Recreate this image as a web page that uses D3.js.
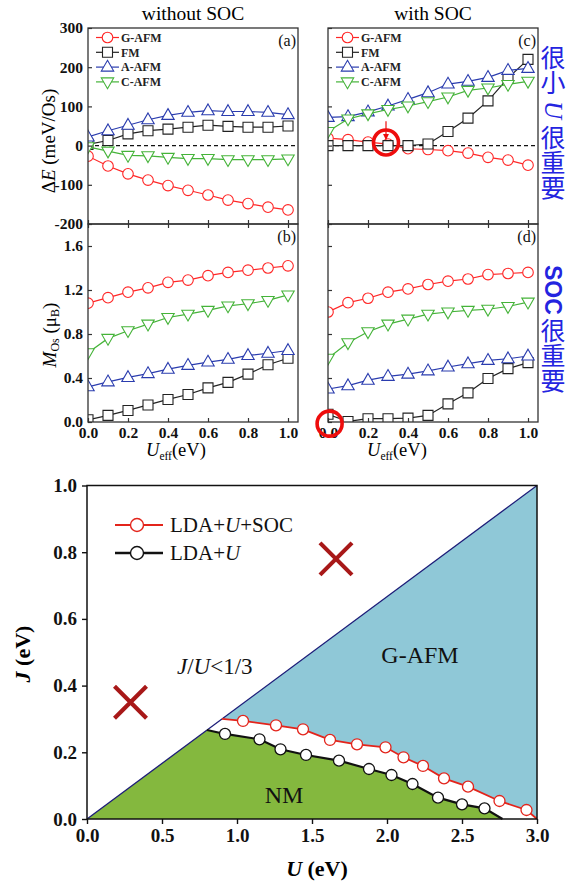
<!DOCTYPE html>
<html lang="en">
<head>
<meta charset="UTF-8">
<script src="https://cdn.jsdelivr.net/npm/d3@7"></script>
<title>Os magnetic phases</title>
<style>
	body { margin: 0; background: white; }
	svg { display: block; font-family: "Liberation Serif", "Times New Roman", serif; }
</style>
</head>
<body>
<script>
	// ---------------- data ----------------
	const uEff = [0, 0.1, 0.2, 0.3, 0.4, 0.5, 0.6, 0.7, 0.8, 0.9, 1.0];
	const phaseNames = ["G-AFM", "FM", "A-AFM", "C-AFM"];

	// (a) energy without SOC, meV/Os
	const dE_noSOC_G = [-27, -52, -72, -88, -102, -114, -126, -139, -148, -157, -164];
	const dE_noSOC_FM = [3, 13, 30, 38, 42, 47, 52, 49, 47, 47, 50];
	const dE_noSOC_A = [22, 38, 52, 66, 77, 85, 89, 87, 87, 85, 79];
	const dE_noSOC_C = [-3, -14, -25, -26, -30, -33, -33, -36, -36, -36, -34];
	// (c) energy with SOC
	const dE_SOC_G = [19, 15, 9, 4, -8, -10, -13, -19, -30, -37, -50];
	const dE_SOC_FM = [0, 0, 0, 0, 0, 4, 36, 70, 114, 172, 220];
	const dE_SOC_A = [72, 74, 86, 101, 118, 135, 157, 164, 174, 192, 197];
	const dE_SOC_C = [36, 68, 81, 92, 101, 112, 124, 141, 147, 156, 164];
	// (b) Os moment without SOC, muB
	const m_noSOC_G = [1.08, 1.13, 1.18, 1.22, 1.27, 1.29, 1.33, 1.36, 1.38, 1.40, 1.42];
	const m_noSOC_FM = [0.02, 0.06, 0.105, 0.155, 0.205, 0.25, 0.31, 0.36, 0.435, 0.52, 0.58];
	const m_noSOC_A = [0.32, 0.365, 0.405, 0.44, 0.48, 0.515, 0.545, 0.57, 0.605, 0.625, 0.65];
	const m_noSOC_C = [0.63, 0.76, 0.83, 0.89, 0.95, 0.98, 1.015, 1.055, 1.075, 1.105, 1.155];
	// (d) Os moment with SOC
	const m_SOC_G = [1.0, 1.085, 1.125, 1.18, 1.21, 1.25, 1.28, 1.30, 1.34, 1.35, 1.36];
	const m_SOC_FM = [0.07, 0.005, 0.03, 0.03, 0.035, 0.06, 0.165, 0.265, 0.395, 0.485, 0.54];
	const m_SOC_A = [0.30, 0.33, 0.38, 0.415, 0.435, 0.465, 0.50, 0.53, 0.56, 0.575, 0.60];
	const m_SOC_C = [0.58, 0.72, 0.82, 0.89, 0.935, 0.98, 1.0, 1.015, 1.025, 1.05, 1.09];

	const eTicks = [-200, -100, 0, 100, 200, 300];
	const mTicks = [0.0, 0.4, 0.8, 1.2, 1.6];
	const uTicks = [0.0, 0.2, 0.4, 0.6, 0.8, 1.0];

	// phase diagram (U, J in eV); first and last points are line ends without marker
	const socU = [0.90, 1.04, 1.26, 1.44, 1.62, 1.80, 1.99, 2.11, 2.24, 2.38, 2.54, 2.75, 2.93, 3.00];
	const socJ = [0.300, 0.294, 0.281, 0.269, 0.237, 0.224, 0.215, 0.185, 0.159, 0.122, 0.097, 0.054, 0.027, 0.0];
	const ldaU = [0.80, 0.92, 1.15, 1.29, 1.46, 1.68, 1.88, 2.03, 2.17, 2.34, 2.50, 2.65, 2.77];
	const ldaJ = [0.267, 0.255, 0.239, 0.209, 0.192, 0.175, 0.150, 0.132, 0.105, 0.064, 0.044, 0.032, 0.0];
	const jOverU = 1 / 3;
	const crossU = [0.29, 1.66];
	const crossJ = [0.35, 0.78];
	const bigUTicks = [0.0, 0.5, 1.0, 1.5, 2.0, 2.5, 3.0];
	const bigJTicks = [0.0, 0.2, 0.4, 0.6, 0.8, 1.0];

	// ---------------- setup ----------------
	const svg = d3.select("body").append("svg").attr("width", 572).attr("height", 887);

	const styles = [
		{ color: "#ff2626", shape: "circle" },
		{ color: "#222222", shape: "square" },
		{ color: "#2a3cae", shape: "up" },
		{ color: "#45b339", shape: "down" }
	];
	const shapePaths = {
		circle: d3.symbol().type(d3.symbolCircle).size(Math.PI * 5.3 * 5.3)(),
		square: "M-5,-5H5V5H-5Z",
		up: "M0,-6.8L6.2,4L-6.2,4Z",
		down: "M0,6.8L6.2,-4L-6.2,-4Z"
	};

	const panelLeft = [88, 328];
	const panelW = 210;
	const rowTop = [28, 224];
	const rowH = [196, 198];

	const x = d3.scaleLinear().domain([0, 1.05]).range([0, panelW]);
	const yE = d3.scaleLinear().domain([-200, 300]).range([rowH[0], 0]);
	const yM = d3.scaleLinear().domain([0, 1.8]).range([rowH[1], 0]);

	function drawPanel(col, row, yScale, yTicks, yFmt, series, label, legend) {
		const h = rowH[row];
		const g = svg.append("g").attr("transform", `translate(${panelLeft[col]},${rowTop[row]})`);
		const clipId = "clip" + col + row;
		g.append("clipPath").attr("id", clipId).append("rect").attr("width", panelW).attr("height", h);

		const plot = g.append("g").attr("clip-path", `url(#${clipId})`);
		if (row === 0) {
			plot.append("line").attr("x1", 0).attr("x2", panelW)
				.attr("y1", yScale(0)).attr("y2", yScale(0))
				.attr("stroke", "#111").attr("stroke-width", 1.3).attr("stroke-dasharray", "4,3");
		}
		const line = d3.line().x((d, i) => x(uEff[i])).y(d => yScale(d));
		series.forEach((vals, k) => {
			const st = styles[k];
			plot.append("path").datum(vals).attr("d", line)
				.attr("fill", "none").attr("stroke", st.color).attr("stroke-width", 1.2);
			plot.selectAll(null).data(vals).enter().append("path")
				.attr("transform", (d, i) => `translate(${x(uEff[i])},${yScale(d)})`)
				.attr("d", shapePaths[st.shape])
				.attr("fill", "white").attr("stroke", st.color).attr("stroke-width", 1.1);
		});

		// axes, ticks inward
		const yAxis = d3.axisLeft(yScale).tickValues(yTicks).tickSize(-4).tickPadding(5)
			.tickFormat(col === 0 ? yFmt : () => "");
		const ya = g.append("g").call(yAxis);
		const xb = g.append("g").attr("transform", `translate(0,${h})`)
			.call(d3.axisBottom(x).tickValues(uTicks).tickSize(-4).tickPadding(5)
				.tickFormat(row === 1 ? d3.format(".1f") : () => ""));
		const xt = g.append("g").call(d3.axisTop(x).tickValues(uTicks).tickSize(row === 1 ? -4 : 0).tickFormat(() => ""));
		[ya, xb, xt].forEach(a => {
			a.select(".domain").remove();
			a.selectAll("line").attr("stroke", "#333").attr("stroke-width", 1.2);
			a.selectAll("text").attr("font-family", "Liberation Serif").attr("font-size", 15.5)
				.attr("font-weight", "bold").attr("fill", "#111");
		});
		g.append("rect").attr("width", panelW).attr("height", h)
			.attr("fill", "none").attr("stroke", "#333").attr("stroke-width", 1.3);

		g.append("text").attr("x", panelW - 2).attr("y", 18).attr("text-anchor", "end")
			.attr("font-size", 16).attr("fill", "#111").text(label);

		if (legend) {
			phaseNames.forEach((name, k) => {
				const st = styles[k];
				const ly = 9.5 + k * 14.8;
				g.append("line").attr("x1", 8).attr("x2", 31).attr("y1", ly).attr("y2", ly)
					.attr("stroke", st.color).attr("stroke-width", 1.2);
				g.append("path").attr("transform", `translate(19.5,${ly})`).attr("d", shapePaths[st.shape])
					.attr("fill", "white").attr("stroke", st.color).attr("stroke-width", 1.1);
				g.append("text").attr("x", 33).attr("y", ly + 4.2).attr("font-size", 12)
					.attr("font-weight", "bold").attr("fill", "#222").text(name);
			});
		}
		return g;
	}

	const plainInt = d => String(d);
	drawPanel(0, 0, yE, eTicks, plainInt, [dE_noSOC_G, dE_noSOC_FM, dE_noSOC_A, dE_noSOC_C], "(a)", true);
	const gc = drawPanel(1, 0, yE, eTicks, plainInt, [dE_SOC_G, dE_SOC_FM, dE_SOC_A, dE_SOC_C], "(c)", true);
	drawPanel(0, 1, yM, mTicks, d3.format(".1f"), [m_noSOC_G, m_noSOC_FM, m_noSOC_A, m_noSOC_C], "(b)", false);
	const gd = drawPanel(1, 1, yM, mTicks, d3.format(".1f"), [m_SOC_G, m_SOC_FM, m_SOC_A, m_SOC_C], "(d)", false);

	// red highlights
	const hl = "#ee0d0d";
	svg.append("defs").append("marker").attr("id", "arrow").attr("viewBox", "0 0 10 10")
		.attr("refX", 9).attr("refY", 5).attr("markerWidth", 5).attr("markerHeight", 5).attr("orient", "auto")
		.append("path").attr("d", "M0,0L10,5L0,10Z").attr("fill", hl);
	gc.append("line").attr("x1", x(0.29)).attr("x2", x(0.29)).attr("y1", yE(62)).attr("y2", yE(16))
		.attr("stroke", hl).attr("stroke-width", 1.2).attr("marker-end", "url(#arrow)");
	gc.append("circle").attr("cx", x(0.29)).attr("cy", yE(8)).attr("r", 12.5)
		.attr("fill", "none").attr("stroke", hl).attr("stroke-width", 3.6);
	gd.append("circle").attr("cx", x(0.008)).attr("cy", yM(-0.015)).attr("r", 12.5)
		.attr("fill", "none").attr("stroke", hl).attr("stroke-width", 3.6);

	// titles and axis labels
	svg.append("text").attr("x", 193).attr("y", 20).attr("text-anchor", "middle").attr("font-size", 19.5).text("without SOC");
	svg.append("text").attr("x", 433).attr("y", 20).attr("text-anchor", "middle").attr("font-size", 19.5).text("with SOC");

	const yl1 = svg.append("text").attr("transform", "translate(55,141) rotate(-90)")
		.attr("text-anchor", "middle").attr("font-size", 19);
	yl1.append("tspan").text("Δ");
	yl1.append("tspan").attr("font-style", "italic").text("E");
	yl1.append("tspan").text(" (meV/Os)");

	const yl2 = svg.append("text").attr("transform", "translate(56,335) rotate(-90)")
		.attr("text-anchor", "middle").attr("font-size", 19);
	yl2.append("tspan").attr("font-style", "italic").text("M");
	yl2.append("tspan").attr("font-size", 12).attr("baseline-shift", "-25%").text("Os");
	yl2.append("tspan").text(" (μ");
	yl2.append("tspan").attr("font-size", 12).attr("baseline-shift", "-25%").text("B");
	yl2.append("tspan").text(")");

	[146, 367].forEach(px => {
		const t = svg.append("text").attr("x", px).attr("y", 456).attr("font-size", 18.5);
		t.append("tspan").attr("font-style", "italic").text("U");
		t.append("tspan").attr("font-size", 11.5).attr("baseline-shift", "-30%").text("eff");
		t.append("tspan").text("(eV)");
	});

	// vertical Chinese notes
	const note1 = svg.append("text").attr("x", 553).attr("y", 45).style("writing-mode", "vertical-rl")
		.attr("font-family", "Noto Sans CJK SC").attr("font-size", 25).attr("fill", "#2424e0");
	note1.append("tspan").text("很小 ");
	note1.append("tspan").attr("font-family", "Liberation Serif").attr("font-style", "italic").text("U");
	note1.append("tspan").text(" 很重要");
	const note2 = svg.append("text").attr("x", 553).attr("y", 265).style("writing-mode", "vertical-rl")
		.attr("font-family", "Noto Sans CJK SC").attr("font-size", 25).attr("fill", "#2424e0");
	note2.append("tspan").attr("font-family", "Liberation Sans").attr("font-weight", "bold").attr("font-size", 23).text("SOC");
	note2.append("tspan").attr("dy", 3).text("很重要");

	// ---------------- phase diagram ----------------
	const bx = d3.scaleLinear().domain([0, 3]).range([87, 537]);
	const by = d3.scaleLinear().domain([0, 1]).range([819, 485.5]);
	const pl = d3.line().x(d => bx(d[0])).y(d => by(d[1]));

	const socPts = socU.map((u, i) => [u, socJ[i]]);
	const ldaPts = ldaU.map((u, i) => [u, ldaJ[i]]);
	const uMax = 3;

	const bluePoly = [[socU[0], socU[0] * jOverU], [uMax, uMax * jOverU], [uMax, 0]].concat(socPts.slice().reverse());
	svg.append("path").attr("d", pl(bluePoly) + "Z").attr("fill", "#8fc8d7");
	const greenPoly = [[0, 0], [ldaU[0], ldaU[0] * jOverU]].concat(ldaPts).concat([[0, 0]]);
	svg.append("path").attr("d", pl(greenPoly) + "Z").attr("fill", "#84b83e");

	svg.append("path").attr("d", pl([[0, 0], [uMax, uMax * jOverU]]))
		.attr("stroke", "#1c1c78").attr("stroke-width", 1.3).attr("fill", "none");

	svg.append("path").attr("d", pl(ldaPts)).attr("fill", "none").attr("stroke", "#111").attr("stroke-width", 2.2);
	svg.selectAll(null).data(ldaPts.slice(1, -1)).enter().append("circle")
		.attr("cx", d => bx(d[0])).attr("cy", d => by(d[1])).attr("r", 5.5)
		.attr("fill", "white").attr("stroke", "#111").attr("stroke-width", 1.3);
	svg.append("path").attr("d", pl(socPts)).attr("fill", "none").attr("stroke", "#e3241b").attr("stroke-width", 1.8);
	svg.selectAll(null).data(socPts.slice(1, -1)).enter().append("circle")
		.attr("cx", d => bx(d[0])).attr("cy", d => by(d[1])).attr("r", 5.5)
		.attr("fill", "white").attr("stroke", "#e3241b").attr("stroke-width", 1.3);

	// crosses
	crossU.forEach((u, i) => {
		const cx = bx(u), cy = by(crossJ[i]), s = 16;
		svg.append("path").attr("d", `M${cx - s},${cy - s}L${cx + s},${cy + s}M${cx - s},${cy + s}L${cx + s},${cy - s}`)
			.attr("stroke", "#a81818").attr("stroke-width", 4.2);
	});

	// frame & axes
	svg.append("rect").attr("x", 87).attr("y", 485.5).attr("width", 450).attr("height", 333.5)
		.attr("fill", "none").attr("stroke", "#111").attr("stroke-width", 1.5);
	const bxa = svg.append("g").attr("transform", "translate(0,819)")
		.call(d3.axisBottom(bx).tickValues(bigUTicks).tickSize(5).tickPadding(5).tickFormat(d3.format(".1f")));
	const bya = svg.append("g").attr("transform", "translate(87,0)")
		.call(d3.axisLeft(by).tickValues(bigJTicks).tickSize(5).tickPadding(5).tickFormat(d3.format(".1f")));
	[bxa, bya].forEach(a => {
		a.select(".domain").remove();
		a.selectAll("line").attr("stroke", "#111").attr("stroke-width", 1.4);
		a.selectAll("text").attr("font-family", "Liberation Serif").attr("font-size", 19)
			.attr("font-weight", "bold").attr("fill", "#111");
	});

	const jl = svg.append("text").attr("transform", "translate(30,654) rotate(-90)")
		.attr("text-anchor", "middle").attr("font-size", 22).attr("font-weight", "bold");
	jl.append("tspan").attr("font-style", "italic").text("J");
	jl.append("tspan").text(" (eV)");
	const ul = svg.append("text").attr("x", 317).attr("y", 876)
		.attr("text-anchor", "middle").attr("font-size", 22).attr("font-weight", "bold");
	ul.append("tspan").attr("font-style", "italic").text("U");
	ul.append("tspan").text(" (eV)");

	// legend
	const legendItems = [
		{ color: "#e3241b", width: 1.8, parts: [["LDA+", false], ["U", true], ["+SOC", false]] },
		{ color: "#111", width: 2.6, parts: [["LDA+", false], ["U", true]] }
	];
	legendItems.forEach((it, k) => {
		const ly = 525 + k * 28;
		svg.append("line").attr("x1", 115).attr("x2", 163).attr("y1", ly).attr("y2", ly)
			.attr("stroke", it.color).attr("stroke-width", it.width);
		svg.append("circle").attr("cx", 137).attr("cy", ly).attr("r", 6.5)
			.attr("fill", "white").attr("stroke", it.color).attr("stroke-width", 1.4);
		const t = svg.append("text").attr("x", 170).attr("y", ly + 7).attr("font-size", 21).attr("fill", "#111");
		it.parts.forEach(p => t.append("tspan").attr("font-style", p[1] ? "italic" : null).text(p[0]));
	});

	const ratio = svg.append("text").attr("x", 177).attr("y", 674).attr("font-size", 23).attr("fill", "#111");
	ratio.append("tspan").attr("font-style", "italic").text("J");
	ratio.append("tspan").text("/");
	ratio.append("tspan").attr("font-style", "italic").text("U");
	ratio.append("tspan").text("<1/3");

	svg.append("text").attr("x", 420).attr("y", 663).attr("text-anchor", "middle").attr("font-size", 24).attr("fill", "#111").text("G-AFM");
	svg.append("text").attr("x", 284).attr("y", 803).attr("text-anchor", "middle").attr("font-size", 24).attr("fill", "#111").text("NM");
</script>
</body>
</html>
